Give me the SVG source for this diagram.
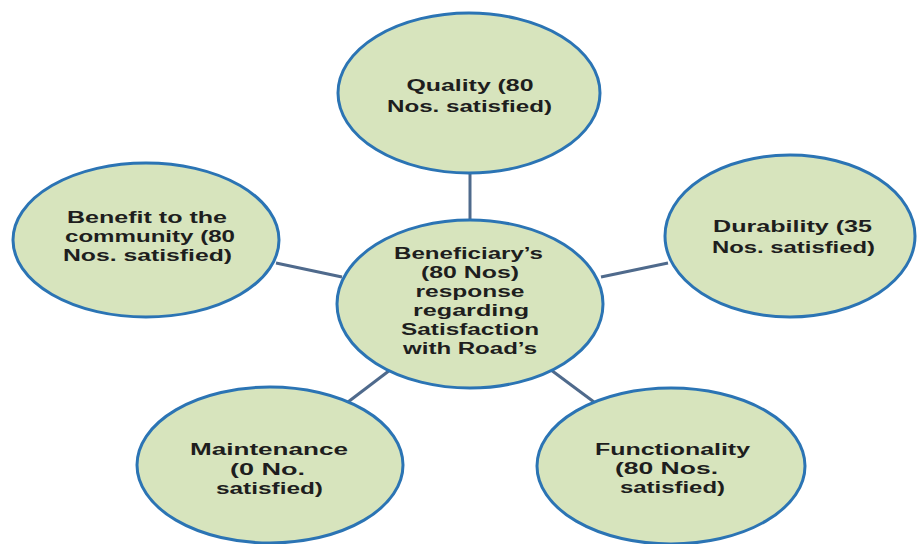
<svg xmlns="http://www.w3.org/2000/svg" width="917" height="544" viewBox="0 0 917 544">
<style>
.n{fill:#d7e4bd;stroke:#2b74b4;stroke-width:3}
.c{stroke:#4f6a8c;stroke-width:3;fill:none}
text{font-family:"Liberation Sans",Arial,sans-serif;font-weight:bold;font-size:16px;fill:#1e1e1e;text-anchor:middle}
</style>
<rect width="917" height="544" fill="#ffffff"/>
<g id="connectors">
<line class="c" x1="470" y1="173" x2="470" y2="221"/>
<line class="c" x1="276" y1="263" x2="342" y2="277"/>
<line class="c" x1="601" y1="277" x2="668" y2="263"/>
<line class="c" x1="348" y1="402" x2="394" y2="367"/>
<line class="c" x1="547" y1="367" x2="594" y2="402"/>
</g>
<g id="quality">
<ellipse class="n" cx="469" cy="93" rx="131" ry="80"/>
<text x="470" y="91" textLength="127" lengthAdjust="spacingAndGlyphs">Quality (80</text>
<text x="469.5" y="112" textLength="165" lengthAdjust="spacingAndGlyphs">Nos. satisfied)</text>
</g>
<g id="center">
<ellipse class="n" cx="470" cy="304" rx="133" ry="84"/>
<text x="468.5" y="259" textLength="149" lengthAdjust="spacingAndGlyphs">Beneficiary’s</text>
<text x="470" y="278" textLength="98" lengthAdjust="spacingAndGlyphs">(80 Nos)</text>
<text x="470" y="297" textLength="109" lengthAdjust="spacingAndGlyphs">response</text>
<text x="471" y="316" textLength="116" lengthAdjust="spacingAndGlyphs">regarding</text>
<text x="470" y="335" textLength="138" lengthAdjust="spacingAndGlyphs">Satisfaction</text>
<text x="470" y="354" textLength="134" lengthAdjust="spacingAndGlyphs">with Road’s</text>
</g>
<g id="benefit">
<ellipse class="n" cx="146" cy="240" rx="133" ry="77"/>
<text x="147" y="223" textLength="160" lengthAdjust="spacingAndGlyphs">Benefit to the</text>
<text x="150" y="242" textLength="170" lengthAdjust="spacingAndGlyphs">community (80</text>
<text x="147.5" y="261" textLength="169" lengthAdjust="spacingAndGlyphs">Nos. satisfied)</text>
</g>
<g id="durability">
<ellipse class="n" cx="790" cy="236" rx="125" ry="81"/>
<text x="792.5" y="232" textLength="159" lengthAdjust="spacingAndGlyphs">Durability (35</text>
<text x="793.5" y="253" textLength="163" lengthAdjust="spacingAndGlyphs">Nos. satisfied)</text>
</g>
<g id="maintenance">
<ellipse class="n" cx="270" cy="465" rx="133" ry="78"/>
<text x="269" y="455" textLength="158" lengthAdjust="spacingAndGlyphs">Maintenance</text>
<text x="267.5" y="475" textLength="75" lengthAdjust="spacingAndGlyphs">(0 No.</text>
<text x="269.5" y="494" textLength="107" lengthAdjust="spacingAndGlyphs">satisfied)</text>
</g>
<g id="functionality">
<ellipse class="n" cx="671" cy="466" rx="134" ry="78"/>
<text x="672.5" y="455" textLength="155" lengthAdjust="spacingAndGlyphs">Functionality</text>
<text x="666.5" y="474" textLength="103" lengthAdjust="spacingAndGlyphs">(80 Nos.</text>
<text x="672.5" y="493" textLength="105" lengthAdjust="spacingAndGlyphs">satisfied)</text>
</g>
</svg>
